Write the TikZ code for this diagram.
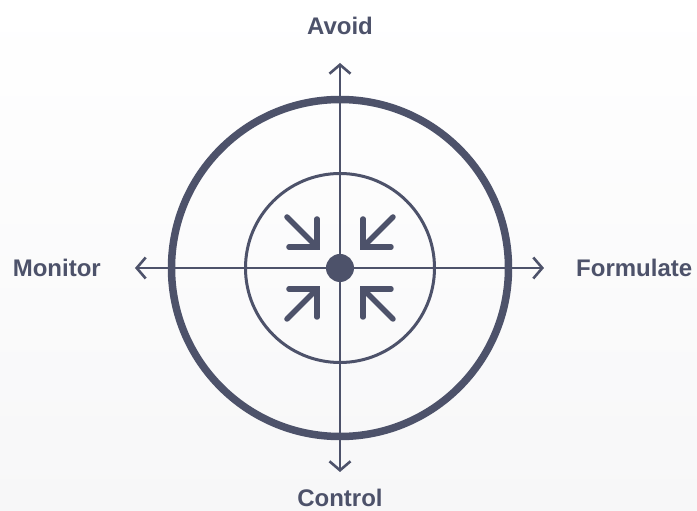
\documentclass[tikz,border=0pt]{standalone}
\usepackage{fontspec}
\setmainfont{Liberation Sans}
\usepackage{tikz}
\usetikzlibrary{arrows.meta,positioning}

\definecolor{slate}{RGB}{77,82,106}
\definecolor{paper}{RGB}{247,247,248}

\begin{document}
\begin{tikzpicture}[
  x=1pt, y=1pt,
  every node/.style={align=center, text=slate},
  ring/.style={circle, draw=slate, inner sep=0pt},
  hubdot/.style={circle, fill=slate, minimum size=28pt, inner sep=0pt},
  axis/.style={{Straight Barb[length=9pt,width=21pt]}-{Straight Barb[length=9pt,width=21pt]}, draw=slate, line width=2.6pt},
  pinch/.style={draw=slate, line width=5.5pt, line cap=round, line join=miter},
  tag/.style={inner sep=0pt, font=\fontsize{24}{28}\selectfont\bfseries}
]

% --- BACKGROUND ---
\shade[top color=white, bottom color=paper] (-340,-243) rectangle (357,268);
\useasboundingbox (-340,-243) rectangle (357,268);

% --- CENTRE AND RINGS ---
\node[hubdot] (hub) at (0,0) {};
\node[ring, line width=7.5pt, minimum size=337pt] (outer) at (hub) {};
\node[ring, line width=3pt, minimum size=189pt] (inner) at (hub) {};

% --- AXES ---
\coordinate[above=205pt of hub.center] (tipN);
\coordinate[below=204pt of hub.center] (tipS);
\coordinate[left=205pt of hub.center] (tipW);
\coordinate[right=204pt of hub.center] (tipE);

\draw[axis] (tipS) -- (tipN);
\draw[axis] (tipW) -- (tipE);

% --- LABELS ---
\node[tag, above=28pt of tipN] (avoid) {Avoid};
\node[tag, below=17pt of tipS] (control) {Control};
\node[tag, left=34pt of tipW] (monitor) {Monitor};
\node[tag, right=32pt of tipE] (formulate) {Formulate};

% --- INWARD ARROWS ---
\foreach \sx/\sy in {-1/1, 1/1, -1/-1, 1/-1} {
  \draw[pinch] ([shift={(\sx*53,\sy*51)}]hub.center) -- ([shift={(\sx*25,\sy*23)}]hub.center);
  \draw[pinch] ([shift={(\sx*23,\sy*49)}]hub.center) -- ([shift={(\sx*23,\sy*21)}]hub.center) -- ([shift={(\sx*51,\sy*21)}]hub.center);
}

\end{tikzpicture}
\end{document}
